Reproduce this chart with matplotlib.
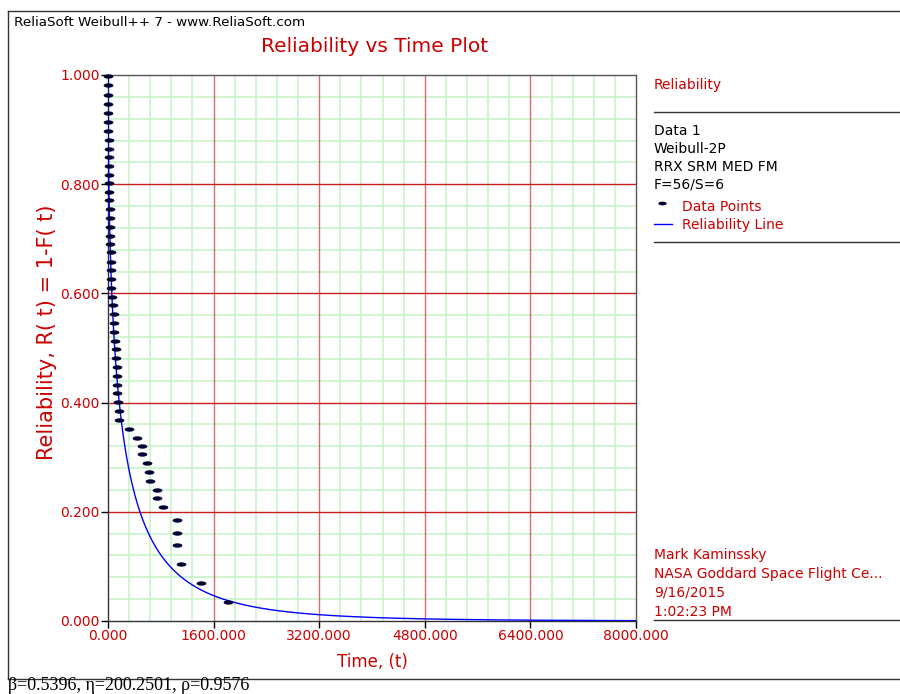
import numpy as np
import matplotlib
matplotlib.use("Agg")
import matplotlib.pyplot as plt
from matplotlib.lines import Line2D
from matplotlib.path import Path

# Weibull-2P fit (RRX, median ranks), 56 failures / 6 suspensions
beta = 0.5396
eta = 200.2501
rho = 0.9576

# failure times and their reliability estimates
fail_time = [1, 2, 3, 4, 5, 6, 7, 8, 10, 11, 13, 15, 17, 19, 21, 23, 26, 29, 32, 35, 38,
             41, 43, 45, 48, 61, 71, 88, 91, 94, 111, 119, 122, 130, 133, 140, 143, 152,
             162, 171, 323, 435, 515,
             518, 586, 626, 636, 738, 747, 829, 1046, 1050, 1053, 1101, 1404, 1818]
fail_rel = [0.998, 0.981, 0.964, 0.947, 0.931, 0.914, 0.898, 0.881, 0.865, 0.849, 0.833,
            0.816, 0.802, 0.786, 0.771, 0.755, 0.738, 0.722, 0.706, 0.690, 0.675,
            0.657, 0.642, 0.626, 0.610, 0.594, 0.578, 0.562, 0.546, 0.529, 0.513, 0.498,
            0.482, 0.465, 0.449, 0.433, 0.417, 0.401, 0.385, 0.369, 0.352, 0.336, 0.321,
            0.305, 0.289, 0.273, 0.257, 0.240, 0.225, 0.209, 0.185, 0.162, 0.139, 0.104,
            0.070, 0.035]

x_ticks = [0, 1600, 3200, 4800, 6400, 8000]
y_ticks = [0.0, 0.2, 0.4, 0.6, 0.8, 1.0]

info_lines = ["Data 1", "Weibull-2P", "RRX SRM MED FM", "F=56/S=6"]
user_lines = ["Mark Kaminssky", "NASA Goddard Space Flight Ce...", "9/16/2015", "1:02:23 PM"]

RED = "#cc0000"
GRID_RED = "#c81e1e"
GRID_GREEN = "#c4f2c4"
PT_COLOR = "#000030"
W, H = 900, 694

plt.rcParams['font.family'] = ['DejaVu Sans']

# flat oval used for the data point marks
th = np.linspace(0, 2 * np.pi, 40)
dash = Path(np.column_stack([np.cos(th), 0.45 * np.sin(th)]))

fig = plt.figure(figsize=(W / 100, H / 100), dpi=100)


# pixel -> figure coordinates
def fx(px):
    return px / W


def fy(py):
    return 1 - py / H


ax = fig.add_axes([fx(108), fy(621), fx(636) - fx(108), fy(75) - fy(621)])

# grid: green minor, red major
for xv in np.arange(0, 8001, 320):
    if xv % 1600:
        ax.axvline(xv, color=GRID_GREEN, lw=1.1, zorder=0)
for yv in np.arange(0, 1.0001, 0.04):
    if round(yv / 0.04) % 5:
        ax.axhline(yv, color=GRID_GREEN, lw=1.1, zorder=0)
for xv in x_ticks[1:-1]:
    ax.axvline(xv, color=GRID_RED, lw=1.0, alpha=0.65, zorder=1)
for yv in y_ticks[1:-1]:
    ax.axhline(yv, color=GRID_RED, lw=1.0, zorder=1)

# fitted reliability line
t = np.linspace(0, 8000, 4000)
ax.plot(t, np.exp(-(t / eta) ** beta), color="#0000ff", lw=1.0, zorder=3)

# data points as short dashes
ax.plot(fail_time, fail_rel, ls="none", marker=dash, ms=7, mew=0,
        color=PT_COLOR, zorder=4, clip_on=False)

ax.set_xlim(0, 8000)
ax.set_ylim(0, 1.0)
ax.set_xticks(x_ticks)
ax.set_yticks(y_ticks)
ax.set_xticklabels(["%.3f" % v for v in x_ticks])
ax.set_yticklabels(["%.3f" % v for v in y_ticks])
ax.tick_params(direction="out", length=5, width=1, colors="black",
               labelcolor=RED, labelsize=10, pad=1)
for s in ax.spines.values():
    s.set_color("#555555")
    s.set_linewidth(1)
ax.spines["left"].set_color("#333333")
ax.spines["bottom"].set_color("#333333")

ax.set_xlabel("Time, (t)", color=RED, fontsize=12, labelpad=7)
ax.set_ylabel("Reliability, R( t) = 1-F( t)", color=RED, fontsize=15)
ax.yaxis.set_label_coords((57 - 108) / 528, (621 - 332) / 546)

# outer frame
frame = dict(color="#333333", lw=1.0, transform=fig.transFigure)
fig.add_artist(Line2D([fx(8), 1.0], [fy(11), fy(11)], **frame))
fig.add_artist(Line2D([fx(8), fx(8)], [fy(11), fy(679)], **frame))
fig.add_artist(Line2D([fx(8), 1.0], [fy(679), fy(679)], **frame))

fig.text(fx(14), fy(22), "ReliaSoft Weibull++ 7 - www.ReliaSoft.com",
         fontsize=9.7, va="center", ha="left", color="black")
fig.text(fx(375), fy(47), "Reliability vs Time Plot", fontsize=14.5,
         va="center", ha="center", color=RED)
fig.text(fx(8), fy(686), "\u03b2=%.4f, \u03b7=%.4f, \u03c1=%.4f" % (beta, eta, rho),
         fontsize=13, va="center", ha="left", family="Liberation Serif", color="black")

# side panel
fig.text(fx(654), fy(85), "Reliability", fontsize=10, va="center", color=RED)
sep = dict(color="#333333", lw=1.0, transform=fig.transFigure)
fig.add_artist(Line2D([fx(654), 1.0], [fy(112), fy(112)], **sep))
for i, s in enumerate(info_lines):
    fig.text(fx(654), fy(131 + 18 * i), s, fontsize=10, va="center", color="black")
fig.add_artist(Line2D([fx(662)], [fy(203)], marker=dash, ms=6, mew=0,
                      color=PT_COLOR, transform=fig.transFigure))
fig.text(fx(682), fy(207), "Data Points", fontsize=10, va="center", color=RED)
fig.add_artist(Line2D([fx(654), fx(672)], [fy(224), fy(224)], color="#0000ff",
                      lw=1.0, transform=fig.transFigure))
fig.text(fx(682), fy(225), "Reliability Line", fontsize=10, va="center", color=RED)
fig.add_artist(Line2D([fx(654), 1.0], [fy(242), fy(242)], **sep))

for i, s in enumerate(user_lines):
    fig.text(fx(654), fy(555 + 19 * i), s, fontsize=10, va="center", color=RED)
fig.add_artist(Line2D([fx(654), 1.0], [fy(620), fy(620)], **sep))

fig.savefig("out.png", dpi=100, facecolor="white")
